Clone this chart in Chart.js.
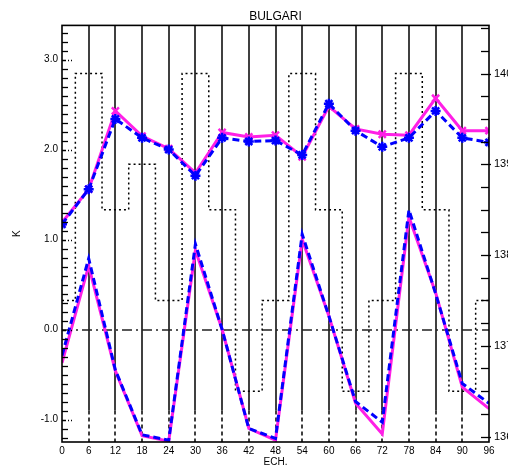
<!DOCTYPE html>
<html>
<head>
<meta charset="utf-8">
<script src="https://cdn.jsdelivr.net/npm/chart.js@4/dist/chart.umd.min.js"></script>
<style>
    html, body { margin: 0; padding: 0; background: #fff; }
    #wrap { width: 508px; height: 471px; overflow: hidden; }
</style>
</head>
<body>
<div id="wrap"><canvas id="chart" width="520" height="471"></canvas></div>
<script>
// forecast hours (ECH.)
const hours = [0, 6, 12, 18, 24, 30, 36, 42, 48, 54, 60, 66, 72, 78, 84, 90, 96];

// upper pair of curves (left axis, K)
const upperMagenta = [1.19, 1.56, 2.43, 2.15, 2.01, 1.74, 2.19, 2.14, 2.16, 1.92, 2.48, 2.23, 2.17, 2.16, 2.57, 2.21, 2.21];
const upperBlue = [1.17, 1.56, 2.34, 2.13, 2.00, 1.71, 2.13, 2.09, 2.10, 1.94, 2.51, 2.21, 2.03, 2.13, 2.43, 2.13, 2.08];

// lower pair of curves (left axis, K)
const lowerMagenta = [-0.37, 0.71, -0.46, -1.18, -1.24, 0.88, 0.0, -1.10, -1.23, 1.00, 0.15, -0.82, -1.16, 1.25, 0.41, -0.64, -0.88];
const lowerBlue = [-0.29, 0.79, -0.45, -1.17, -1.23, 0.95, 0.0, -1.10, -1.21, 1.06, 0.15, -0.80, -1.03, 1.33, 0.40, -0.60, -0.82];

// dotted step curve (right axis)
const stepHours = [0, 3, 9, 15, 21, 27, 33, 39, 45, 51, 57, 63, 69, 75, 81, 87, 93, 96];
const stepValues = [137.5, 140, 138.5, 139, 137.5, 140, 138.5, 136.5, 137.5, 140, 138.5, 136.5, 137.5, 140, 138.5, 136.5, 137.5, 137.5];

// axis ranges / ticks
const xTicks = { min: 0, max: 96, step: 6 };
const leftRange = { min: -1.25, max: 3.38, minor: 0.1 };
const rightRange = { min: 135.94, max: 140.53, minor: 0.25 };

const MAGENTA = "#ff1fe6";
const BLUE = "#0000ff";
const FONT = "'Liberation Sans', Arial, sans-serif";

function pts(xs, ys) {
    return xs.map((x, i) => ({ x: x, y: ys[i] }));
}

// frame, vertical lines, zero line and inward tick marks
const decorations = {
    id: "decorations",
    beforeDatasetsDraw(chart) {
        const { ctx, chartArea: a, scales } = chart;
        const x = scales.x, y = scales.y;
        const split = y.getPixelForValue(-0.9);
        ctx.save();
        ctx.strokeStyle = "#000";
        ctx.lineWidth = 1.5;
        x.ticks.forEach((t) => {
            if (t.value <= x.min || t.value >= x.max) return;
            const px = Math.round(x.getPixelForValue(t.value));
            ctx.setLineDash([]);
            ctx.beginPath();
            ctx.moveTo(px, a.top);
            ctx.lineTo(px, split);
            ctx.stroke();
            ctx.setLineDash([4, 3]);
            ctx.beginPath();
            ctx.moveTo(px, split);
            ctx.lineTo(px, a.bottom);
            ctx.stroke();
        });
        // zero line, dash-dot
        const zy = Math.round(y.getPixelForValue(0));
        ctx.lineWidth = 1.5;
        ctx.strokeStyle = "#222";
        ctx.setLineDash([10, 4, 2, 4]);
        ctx.beginPath();
        ctx.moveTo(a.left, zy);
        ctx.lineTo(a.right, zy);
        ctx.stroke();
        ctx.restore();
    },
    afterDatasetsDraw(chart) {
        const { ctx, chartArea: a, scales } = chart;
        const y = scales.y, y1 = scales.y1;
        ctx.save();
        ctx.strokeStyle = "#000";
        ctx.lineWidth = 1.3;
        // left minor ticks
        const lo = Math.ceil(leftRange.min / leftRange.minor);
        const hi = Math.floor(leftRange.max / leftRange.minor);
        for (let k = lo; k <= hi; k++) {
            const v = k * leftRange.minor;
            const py = Math.round(y.getPixelForValue(v)) + 0.5;
            const major = k % 10 === 0;
            ctx.setLineDash(major ? [4, 2, 1, 2] : []);
            ctx.beginPath();
            ctx.moveTo(a.left, py);
            ctx.lineTo(a.left + (major ? 10 : 6), py);
            ctx.stroke();
        }
        // right minor ticks
        ctx.setLineDash([]);
        const lo1 = Math.ceil(rightRange.min / rightRange.minor);
        const hi1 = Math.floor(rightRange.max / rightRange.minor);
        for (let k = lo1; k <= hi1; k++) {
            const v = k * rightRange.minor;
            const py = Math.round(y1.getPixelForValue(v)) + 0.5;
            const major = k % 4 === 0;
            ctx.beginPath();
            ctx.moveTo(a.right - 8, py);
            ctx.lineTo(a.right + (major ? 2 : 0), py);
            ctx.stroke();
        }
        // frame
        ctx.lineWidth = 1.6;
        ctx.strokeRect(a.left, a.top, a.right - a.left, a.bottom - a.top);
        ctx.restore();
    },
};

const ctx = document.getElementById("chart").getContext("2d");
new Chart(ctx, {
    type: "line",
    data: {
        datasets: [
            {
                label: "upper blue",
                data: pts(hours, upperBlue),
                yAxisID: "y",
                borderColor: BLUE,
                borderWidth: 3,
                borderDash: [7, 4],
                pointStyle: "star",
                pointRadius: 5,
                pointBorderWidth: 2.5,
                pointBorderColor: BLUE,
                pointBackgroundColor: BLUE,
                order: 1,
            },
            {
                label: "lower blue",
                data: pts(hours, lowerBlue),
                yAxisID: "y",
                borderColor: BLUE,
                borderWidth: 3,
                borderDash: [7, 4],
                pointRadius: 0,
                order: 1,
            },
            {
                label: "upper magenta",
                data: pts(hours, upperMagenta),
                yAxisID: "y",
                borderColor: MAGENTA,
                borderWidth: 3,
                pointStyle: "crossRot",
                pointRadius: 5,
                pointBorderWidth: 2.5,
                pointBorderColor: MAGENTA,
                order: 2,
            },
            {
                label: "lower magenta",
                data: pts(hours, lowerMagenta),
                yAxisID: "y",
                borderColor: MAGENTA,
                borderWidth: 3,
                pointRadius: 0,
                order: 2,
            },
            {
                label: "step",
                data: pts(stepHours, stepValues),
                yAxisID: "y1",
                stepped: "before",
                borderColor: "#000",
                borderWidth: 1.5,
                borderDash: [2, 3],
                pointRadius: 0,
                order: 3,
            },
        ],
    },
    options: {
        responsive: false,
        animation: false,
        events: [],
        layout: { padding: 0 },
        plugins: {
            legend: { display: false },
            tooltip: { enabled: false },
            title: {
                display: true,
                text: "BULGARI",
                fullSize: false,
                color: "#000",
                font: { family: FONT, size: 12, weight: "normal" },
                padding: { top: 9, bottom: 2 },
            },
        },
        scales: {
            x: {
                type: "linear",
                min: xTicks.min,
                max: xTicks.max,
                ticks: {
                    stepSize: xTicks.step,
                    color: "#000",
                    font: { family: FONT, size: 10 },
                    padding: 3,
                    maxRotation: 0,
                    autoSkip: false,
                },
                grid: { display: false, drawTicks: false },
                border: { display: false },
                title: {
                    display: true,
                    text: "ECH.",
                    color: "#000",
                    font: { family: FONT, size: 10 },
                    padding: { top: 0, bottom: 3 },
                },
                afterFit(s) { s.height = 29; },
            },
            y: {
                position: "left",
                min: leftRange.min,
                max: leftRange.max,
                ticks: {
                    stepSize: 1,
                    includeBounds: false,
                    color: "#000",
                    font: { family: FONT, size: 10 },
                    padding: 4,
                    callback: (v) => v.toFixed(1),
                },
                grid: { display: false, drawTicks: false },
                border: { display: false },
                title: {
                    display: true,
                    text: "K",
                    color: "#000",
                    font: { family: FONT, size: 10 },
                    padding: { top: 11, bottom: 0 },
                },
                afterFit(s) { s.width = 62; },
            },
            y1: {
                position: "right",
                min: rightRange.min,
                max: rightRange.max,
                ticks: {
                    stepSize: 1,
                    includeBounds: false,
                    color: "#000",
                    font: { family: FONT, size: 11 },
                    padding: 5,
                    callback: (v) => String(Math.round(v)),
                },
                grid: { display: false, drawTicks: false },
                border: { display: false },
                afterFit(s) { s.width = 31; },
            },
        },
    },
    plugins: [decorations],
});
</script>
</body>
</html>
